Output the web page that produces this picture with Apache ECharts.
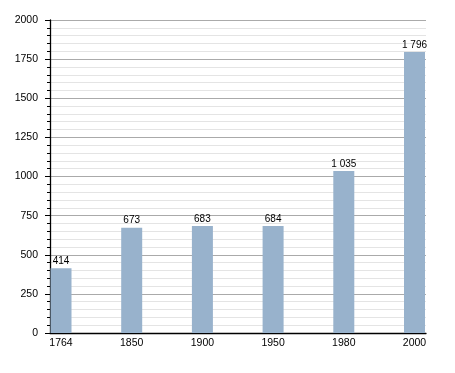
<!DOCTYPE html>
<html><head><meta charset="utf-8">
<script src="https://cdn.jsdelivr.net/npm/echarts@6/dist/echarts.min.js"></script>
<style>html,body{margin:0;padding:0;background:#fff}#c{width:455px;height:373px}</style>
</head><body><div id="c"></div>
<script>
const categories = ['1764', '1850', '1900', '1950', '1980', '2000'];
const population = [414, 673, 683, 684, 1035, 1796];
const yTicks = [0, 250, 500, 750, 1000, 1250, 1500, 1750, 2000];

const FONT = 'Liberation Sans';
const fmt = v => String(v).replace(/\B(?=(\d{3})+(?!\d))/g, ' ');

const chart = echarts.init(document.getElementById('c'), null, {renderer: 'canvas'});
chart.setOption({
  animation: false,
  grid: [
    {left: 50, right: 29, top: 20, bottom: 40},
    {left: 61, right: 40.5, top: 20, bottom: 40}
  ],
  xAxis: [
    {gridIndex: 0, type: 'value', min: 0, max: 1, position: 'bottom',
     axisLine: {show: true, onZero: false, lineStyle: {color: '#000', width: 1.3}},
     axisTick: {show: false}, axisLabel: {show: false}, splitLine: {show: false}},
    {gridIndex: 1, type: 'category', data: categories, boundaryGap: false,
     axisLine: {show: false}, axisTick: {show: false}, splitLine: {show: false},
     axisLabel: {color: '#000', fontFamily: FONT, fontSize: 10.5, margin: 5}}
  ],
  yAxis: [
    {gridIndex: 0, type: 'value', min: yTicks[0], max: yTicks[yTicks.length - 1], interval: 250,
     axisLine: {show: true, lineStyle: {color: '#000', width: 1.3}},
     axisTick: {show: true, length: 5, lineStyle: {color: '#000'}},
     minorTick: {show: true, splitNumber: 5, length: 3, lineStyle: {color: '#000'}},
     splitLine: {show: true, lineStyle: {color: '#aaaaaa', width: 1}},
     minorSplitLine: {show: true, lineStyle: {color: '#e4e4e4', width: 1}},
     axisLabel: {color: '#000', fontFamily: FONT, fontSize: 10.5, margin: 12,
                 formatter: v => String(v)}},
    {gridIndex: 1, type: 'value', min: 0, max: 2000, show: false}
  ],
  series: [{
    type: 'bar', xAxisIndex: 1, yAxisIndex: 1, data: population, barWidth: 21,
    itemStyle: {color: '#98b2cc'},
    label: {show: true, position: 'top', distance: 2, color: '#000', fontFamily: FONT, fontSize: 10,
            formatter: p => fmt(p.value)}
  }]
});
</script></body></html>
